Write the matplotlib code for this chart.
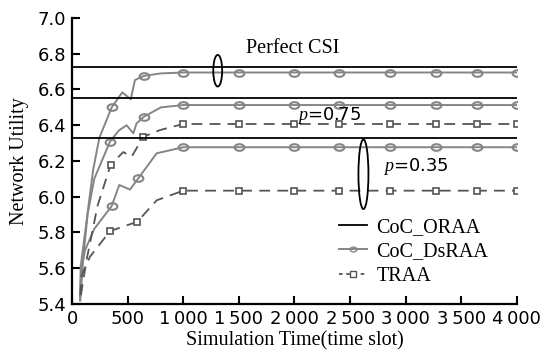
import matplotlib
matplotlib.use("Agg")
import matplotlib.pyplot as plt
from matplotlib.patches import Ellipse
from matplotlib.path import Path
from matplotlib.transforms import Affine2D
from matplotlib.ticker import FuncFormatter

# plateau marker positions (time slot)
plateau_x = [1000, 1500, 2000, 2400, 2860, 3270, 3640, 4000]

# CoC_ORAA (upper bounds, constant)
oraa_levels = [6.726, 6.552, 6.329]

# CoC_DsRAA, perfect CSI
ds1_x = [72, 78, 132, 190, 246, 357, 452, 528, 566, 647, 800] + plateau_x
ds1_y = [5.42, 5.61, 5.87, 6.15, 6.33, 6.50, 6.584, 6.545, 6.653, 6.676, 6.69] + [6.695] * 8
ds1_marks = [357, 647] + plateau_x

# CoC_DsRAA, p=0.75
ds2_x = [75, 100, 140, 200, 341, 420, 491, 551, 580, 647, 800] + plateau_x
ds2_y = [5.42, 5.65, 5.90, 6.10, 6.308, 6.37, 6.40, 6.355, 6.41, 6.448, 6.50] + [6.513] * 8
ds2_marks = [341, 647] + plateau_x

# CoC_DsRAA, p=0.35
ds3_x = [72, 87, 117, 200, 357, 425, 521, 596, 761] + plateau_x
ds3_y = [5.45, 5.60, 5.70, 5.82, 5.948, 6.066, 6.04, 6.103, 6.243] + [6.277] * 8
ds3_marks = [357, 596] + plateau_x

# TRAA, p=0.75
tr1_x = [80, 132, 230, 348, 461, 536, 641, 791] + plateau_x
tr1_y = [5.45, 5.65, 5.95, 6.18, 6.25, 6.224, 6.335, 6.373] + [6.407] * 8
tr1_marks = [348, 641] + plateau_x

# TRAA, p=0.35
tr2_x = [75, 87, 162, 342, 587, 761] + plateau_x
tr2_y = [5.45, 5.56, 5.665, 5.808, 5.86, 5.98] + [6.034] * 8
tr2_marks = [342, 587] + plateau_x

x_ticks = [0, 500, 1000, 1500, 2000, 2500, 3000, 3500, 4000]
y_ticks = [5.4, 5.6, 5.8, 6.0, 6.2, 6.4, 6.6, 6.8, 7.0]

plt.rcParams["mathtext.fontset"] = "custom"
plt.rcParams["mathtext.it"] = "Liberation Serif:italic"
plt.rcParams["mathtext.rm"] = "DejaVu Sans"

serif = "Liberation Serif"
gray = "#858585"
dgray = "#555555"

# flattened circle, as in the original figure
oval = Path.unit_circle().transformed(Affine2D().scale(1.0, 0.68))

fig = plt.figure(figsize=(5.43, 3.59), dpi=100)
ax = fig.add_axes([0.1326, 0.1532, 0.8194, 0.7967])


def mark_idx(xs, marks):
    return [i for i, x in enumerate(xs) if x in marks]


for lvl in oraa_levels:
    ax.plot([0, 4000], [lvl, lvl], color="black", lw=1.3, zorder=3)

for xs, ys, mk in [(ds1_x, ds1_y, ds1_marks), (ds2_x, ds2_y, ds2_marks), (ds3_x, ds3_y, ds3_marks)]:
    ax.plot(xs, ys, color=gray, lw=1.4, marker=oval, ms=7, mfc="none", mec=gray,
            mew=1.5, markevery=mark_idx(xs, mk), zorder=2)

for xs, ys, mk in [(tr1_x, tr1_y, tr1_marks), (tr2_x, tr2_y, tr2_marks)]:
    ax.plot(xs, ys, color=dgray, lw=1.3, ls=(0, (6, 4)), marker="s", ms=4.5,
            mfc="white", mec=dgray, mew=1.2, markevery=mark_idx(xs, mk), zorder=2)

ax.add_patch(Ellipse((1310, 6.705), 80, 0.177, fill=False, ec="black", lw=1.3, zorder=4))
ax.add_patch(Ellipse((2620, 6.126), 90, 0.39, fill=False, ec="black", lw=1.3, zorder=4))

ax.text(1987, 6.832, "Perfect CSI", family=serif, fontsize=14.5, ha="center", va="center")
ax.text(2020, 6.457, "$p$=0.75", fontsize=13, ha="left", va="center")
ax.text(2795, 6.168, "$p$=0.35", fontsize=13, ha="left", va="center")

ax.set_xlim(0, 4000)
ax.set_ylim(5.4, 7.0)
ax.set_xticks(x_ticks)
ax.set_yticks(y_ticks)
ax.xaxis.set_major_formatter(FuncFormatter(
    lambda v, p: f"{int(v):,}".replace(",", "\u2009")))
ax.yaxis.set_major_formatter(FuncFormatter(lambda v, p: f"{v:.1f}"))
ax.tick_params(direction="in", length=6, width=1.5)
ax.tick_params(axis="x", labelsize=13, pad=4)
ax.tick_params(axis="y", labelsize=13, pad=4)
for s in ["top", "right"]:
    ax.spines[s].set_visible(False)
for s in ["left", "bottom"]:
    ax.spines[s].set_linewidth(1.6)

ax.set_xlabel("Simulation Time(time slot)", family=serif, fontsize=14.5, labelpad=3)
ax.set_ylabel("Network Utility", family=serif, fontsize=14.5, labelpad=6)

h1, = ax.plot([], [], color="black", lw=1.3)
h2, = ax.plot([], [], color=gray, lw=1.4, marker=oval, ms=5, mfc="none", mec=gray)
h3, = ax.plot([], [], color=dgray, lw=1.3, ls=(0, (2, 2)), marker="s", ms=4,
              mfc="white", mec=dgray)
ax.legend([h1, h2, h3], ["CoC_ORAA", "CoC_DsRAA", "TRAA"], frameon=False,
          prop={"family": serif, "size": 14.5}, loc="upper left",
          bbox_to_anchor=(0.6, 0.3), handlelength=1.4, handletextpad=0.45,
          labelspacing=0.25, borderpad=0, borderaxespad=0)

fig.savefig("out.png", dpi=100)
